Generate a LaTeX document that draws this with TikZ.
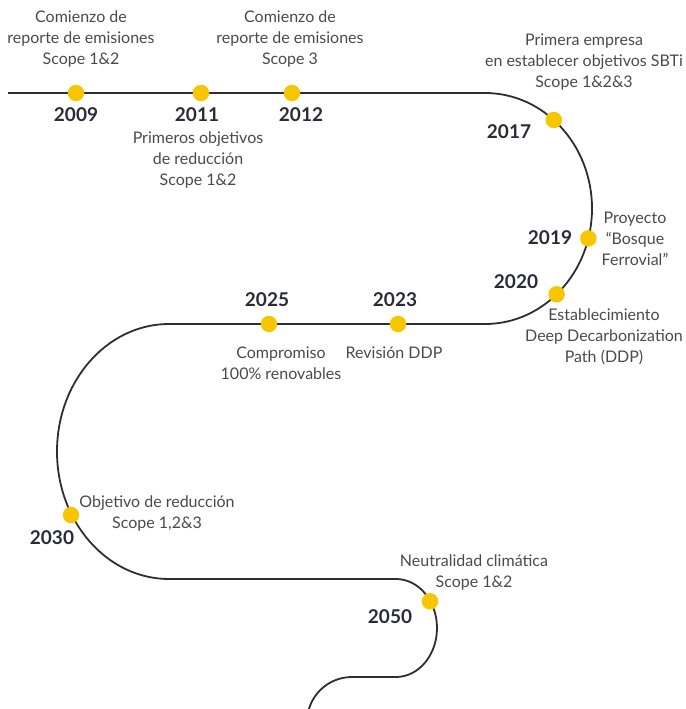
\documentclass[tikz,border=0pt]{standalone}
\usepackage{fontspec}
\setmainfont{Lato}
\definecolor{lineC}{HTML}{2E2E2E}
\definecolor{yearC}{HTML}{2B2B38}
\definecolor{descC}{HTML}{4A4A4A}
\definecolor{dotC}{HTML}{F7C600}
\tikzset{
  timeline/.style={draw=lineC, line width=1.8pt},
  dotmark/.style={circle, fill=dotC, draw=none, minimum size=16.5pt, inner sep=0pt},
  yearlbl/.style={text=yearC, font=\fontsize{19}{20}\selectfont\bfseries, inner sep=0pt},
  desclbl/.style={text=descC, font=\fontsize{16}{21}\selectfont, align=center, inner sep=0pt}
}
\begin{document}
\begin{tikzpicture}[x=1pt,y=-1pt]
\useasboundingbox (0,0) rectangle (685,709);
\begin{scope}
\clip (0,0) rectangle (685,709);
\coordinate (start) at (8,93);
\coordinate (endpt) at (307,722);
\draw[timeline] (start) -- (485,93)
  .. controls (544.1,93) and (592,144.7) .. (592,208.5)
  .. controls (592,272.3) and (544.1,324) .. (485,324)
  -- (169,324)
  .. controls (107.1,324) and (57,381.1) .. (57,451.5)
  .. controls (57,521.9) and (107.1,579) .. (169,579)
  -- (396,579)
  .. controls (418.6,579) and (437,600.9) .. (437,628)
  .. controls (437,655.1) and (418.6,677) .. (396,677)
  -- (352,677)
  .. controls (327.1,677) and (307,697.1) .. (endpt);
\end{scope}
% dots
\node[dotmark] (d2009) at (76,93) {};
\node[dotmark] (d2011) at (201,93) {};
\node[dotmark] (d2012) at (292,93) {};
\node[dotmark] (d2017) at (553.8,120.0) {};
\node[dotmark] (d2019) at (588.4,238.4) {};
\node[dotmark] (d2020) at (556.6,294.3) {};
\node[dotmark] (d2023) at (398,324) {};
\node[dotmark] (d2025) at (269,324) {};
\node[dotmark] (d2030) at (71,515) {};
\node[dotmark] (d2050) at (430,601.3) {};
% years
\node[yearlbl] (y2009) at (76,115) {2009};
\node[yearlbl] (y2011) at (197,115) {2011};
\node[yearlbl] (y2012) at (301,115) {2012};
\node[yearlbl] (y2017) at (509,132) {2017};
\node[yearlbl] (y2019) at (550,238) {2019};
\node[yearlbl] (y2020) at (516,282) {2020};
\node[yearlbl] (y2025) at (267,300) {2025};
\node[yearlbl] (y2023) at (395,300) {2023};
\node[yearlbl] (y2030) at (52,538) {2030};
\node[yearlbl] (y2050) at (390,617) {2050};
% descriptions
\node[desclbl] (t2009) at (81,39) {Comienzo de\\reporte de emisiones\\Scope 1\&2};
\node[desclbl] (t2012) at (290,39) {Comienzo de\\reporte de emisiones\\Scope 3};
\node[desclbl] (t2011) at (198,160) {Primeros objetivos\\de reducción\\Scope 1\&2};
\node[desclbl] (t2017) at (584,62) {Primera empresa\\en establecer objetivos SBTi\\Scope 1\&2\&3};
\node[desclbl] (t2019) at (635,239) {Proyecto\\“Bosque\\Ferrovial”};
\node[desclbl] (t2020) at (604,337) {Establecimiento\\Deep Decarbonization\\Path (DDP)};
\node[desclbl] (t2023) at (394,353) {Revisión DDP};
\node[desclbl] (t2025) at (281,363) {Compromiso\\100\% renovables};
\node[desclbl] (t2030) at (157,513) {Objetivo de reducción\\Scope 1,2\&3};
\node[desclbl] (t2050) at (474,572) {Neutralidad climática\\Scope 1\&2};
\end{tikzpicture}
\end{document}
